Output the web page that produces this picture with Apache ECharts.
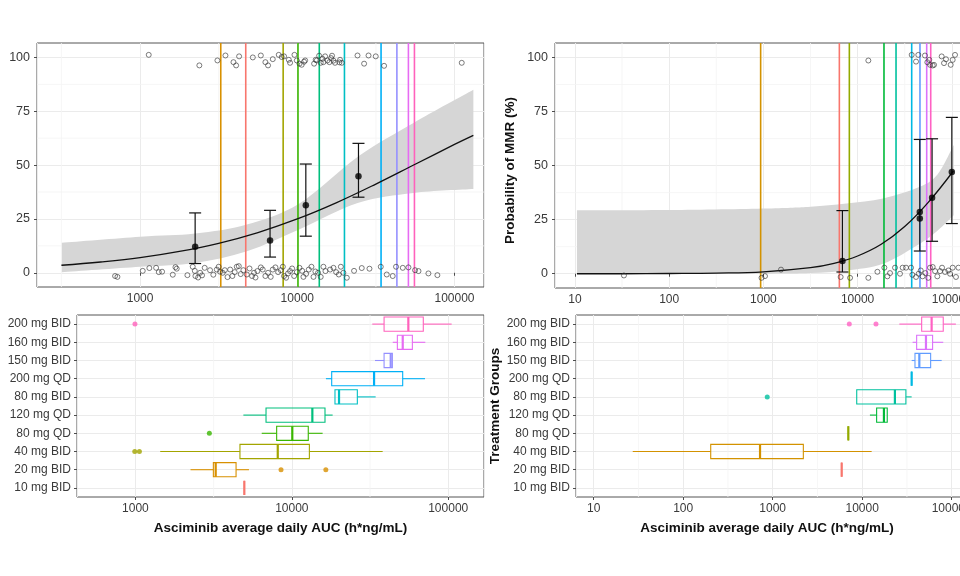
<!DOCTYPE html>
<html>
<head>
<meta charset="utf-8">
<script src="https://cdn.jsdelivr.net/npm/echarts@6.0.0/dist/echarts.min.js"></script>
<style>
html,body{margin:0;padding:0;background:#fff}
#main{width:960px;height:576px}
</style>
</head>
<body>
<div id="main"></div>
<script>
// treatment groups, bottom to top
var doseGroups = ['10 mg BID','20 mg BID','40 mg BID','80 mg QD','120 mg QD','80 mg BID','200 mg QD','150 mg BID','160 mg BID','200 mg BID'];
var leftColors = ['#F8766D','#D89000','#A3A500','#39B600','#00BF7D','#00BFC4','#00B0F6','#9590FF','#E76BF3','#FF62BC'];
var rightColors = [null,'#F8766D','#D39200','#93AA00','#00BA38','#00C19F','#00B9E3','#619CFF','#DB72FB','#FF61C3'];

var probTicks = [0, 25, 50, 75, 100];
var probMinor = [12.5, 37.5, 62.5, 87.5];

// ---- left, top: observed MMR (log10 AUC, jittered %)
var tlObs = [
  [3.055,101.2],[3.377,96.3],[3.492,98.6],[3.543,100.9],[3.594,97.8],[3.611,96.3],[3.630,100.5],[3.717,100.0],
  [3.768,100.9],[3.797,97.8],[3.814,96.3],[3.844,99.2],[3.882,101.2],[3.901,100.2],[3.916,100.5],[3.946,98.9],
  [3.954,97.5],[3.982,101.2],[3.997,98.6],[4.014,97.1],[4.028,96.6],[4.043,98.0],[4.050,98.6],[4.107,97.1],
  [4.117,98.9],[4.124,98.6],[4.139,100.8],[4.149,97.5],[4.160,99.4],[4.166,97.8],[4.177,100.5],[4.192,98.6],
  [4.204,97.8],[4.215,99.7],[4.221,100.8],[4.230,98.5],[4.240,97.5],[4.268,97.7],[4.272,98.9],[4.283,97.5],
  [4.383,100.9],[4.425,97.1],[4.453,100.9],[4.499,100.5],[4.552,96.1],[5.046,97.5],
  [2.841,-1.5],[2.856,-1.9],[3.017,0.9],[3.059,2.2],[3.102,2.3],[3.119,0.3],[3.140,0.5],[3.208,-0.9],
  [3.225,2.6],[3.233,1.9],[3.301,-1.1],[3.335,2.8],[3.348,0.9],[3.352,-1.5],[3.369,-2.2],[3.382,0],
  [3.394,-1.2],[3.411,2.3],[3.445,1.2],[3.466,-0.9],[3.488,1.5],[3.500,2.8],[3.509,0.5],[3.526,0],
  [3.539,1.2],[3.556,-2.0],[3.573,1.5],[3.587,-1.5],[3.602,0.3],[3.615,2.8],[3.628,3.1],[3.640,-0.6],
  [3.657,1.2],[3.679,-0.8],[3.696,2.0],[3.712,-1.5],[3.725,0],[3.734,-2.2],[3.746,0.8],[3.768,2.5],
  [3.780,1.5],[3.797,-1.5],[3.814,0],[3.831,-1.9],[3.844,1.5],[3.861,2.5],[3.878,0.3],[3.895,1.2],
  [3.908,2.8],[3.916,-1.5],[3.929,-2.3],[3.941,-0.3],[3.954,0.8],[3.967,2.0],[3.980,-1.5],[3.997,0.3],
  [4.014,2.3],[4.031,0.9],[4.039,-1.9],[4.056,-0.5],[4.073,1.5],[4.090,2.8],[4.103,-1.9],[4.115,0.6],
  [4.132,0],[4.149,-1.9],[4.166,2.8],[4.179,0.8],[4.209,1.5],[4.230,2.3],[4.247,0.3],[4.264,-0.8],
  [4.277,2.8],[4.293,0],[4.315,-2.3],[4.361,0.9],[4.410,2.2],[4.459,1.9],[4.531,2.8],[4.569,-0.8],
  [4.607,-1.5],[4.628,2.8],[4.671,2.3],[4.707,2.5],[4.749,1.2],[4.771,0.8],[4.834,-0.3],[4.891,-1.1]
];
var tlCurveAuc = [316, 562, 1000, 1780, 3160, 5620, 10000, 17800, 31600, 56200, 100000, 131800];
var tlCurveProb = [3.5, 5.0, 7.0, 9.9, 13.7, 18.7, 25.0, 32.6, 41.2, 50.4, 59.6, 63.8];
var tlBandAuc = [318, 1000, 2240, 4780, 10260, 24490, 54830, 131800];
var tlBandLo = [0.3, 2.8, 4.6, 10.0, 20.1, 32.5, 37.1, 38.9];
var tlBandHi = [13.9, 16.7, 18.2, 22.4, 32.1, 54.1, 69.6, 85.0];
// binned observed rate: AUC, mean, lower, upper
var tlBins = [[2240, 12.1, 4.3, 27.8], [6710, 15.0, 7.3, 29.0], [11330, 31.4, 17.0, 50.5], [24500, 44.8, 35.1, 60.1]];
// group medians (vertical lines), by dose group
var tlMedians = [4700, 3260, 8130, 10100, 13800, 19950, 34100, 43000, 50900, 55600];
var tlMinorX = [316, 3162, 31623];

// ---- left, bottom: AUC by group [min, q1, median, q3, max]
var blBox = [
  [4970, 4970, 4970, 4970, 4970],
  [2250, 3150, 3260, 4400, 5320],
  [1440, 4660, 8130, 12950, 38100],
  [6420, 8000, 10070, 12740, 15740],
  [4900, 6840, 13530, 16300, 18240],
  [18880, 18880, 20040, 26240, 34360],
  [16520, 17990, 33570, 51170, 71100],
  [34040, 38900, 42900, 43950, 43950],
  [44200, 47300, 51200, 59000, 71400],
  [32700, 38900, 55600, 69300, 105200]
];
var blOutliers = [[1, 8530], [1, 16500], [2, 990], [2, 1060], [3, 2970], [9, 993]];
var blMinorX = [3162, 31623];

// ---- right, top
var trObs = [
  [1.52,-0.8],[2.98,-1.9],[3.017,-1.1],[3.187,1.9],[3.82,-1.5],[3.92,-1.9],[4.114,-1.9],[4.21,0.9],
  [4.284,2.8],[4.316,-1.2],[4.344,0.3],[4.397,2.8],[4.45,0],[4.478,2.8],[4.514,2.8],[4.567,2.8],
  [4.581,-0.5],[4.62,-1.5],[4.648,0],[4.67,1.5],[4.69,-1.2],[4.719,0.3],[4.75,-1.9],[4.769,2.8],
  [4.797,3.1],[4.822,1.2],[4.846,-1.2],[4.875,1.2],[4.896,2.8],[4.928,0.8],[4.963,1.5],[4.981,0],
  [5.009,2.8],[5.044,-1.5],[5.07,2.8],
  [4.114,98.6],[4.574,101.2],[4.62,98.1],[4.644,101.2],[4.715,100.9],[4.74,97.8],[4.761,98.9],[4.769,96.6],
  [4.797,96.3],[4.811,96.6],[4.892,100.5],[4.917,97.4],[4.938,99.2],[4.988,96.6],[5.009,98.9],[5.034,101.2]
];
var trCurveAuc = [10.5, 31.6, 100, 316, 1000, 3160, 5620, 10000, 17800, 31600, 56200, 103800];
var trCurveProb = [0, 0, 0.1, 0.3, 0.9, 2.8, 4.8, 8.2, 13.6, 21.8, 33.0, 47.5];
var trBandAuc = [10.5, 100, 1100, 3160, 7590, 18600, 45700, 70800, 104700];
var trBandLo = [0, 0, 0, 0.3, 1.5, 4.6, 13.9, 20.0, 27.0];
var trBandHi = [29.4, 29.5, 30.2, 31.0, 32.5, 34.8, 40.2, 46.0, 59.5];
var trBins = [[6900, 5.9, 0.8, 29.2], [45700, 25.5, 10.5, 62.1], [61700, 35.1, 15.0, 62.4], [100000, 47.1, 23.2, 72.3]];
var trMeanExtra = [[45700, 28.6]];
var trMedians = [null, 6400, 935, 8170, 19050, 25570, 37500, 45900, 54100, 59700];
var trMinorX = [31.6, 316, 3162, 31623];

// ---- right, bottom
var brBox = [
  null,
  [5900, 5900, 5900, 5900, 5900],
  [27.3, 203, 722, 2200, 12760],
  [7000, 7000, 7000, 7000, 7000],
  [12200, 14500, 17500, 19050, 19050],
  [8690, 8690, 23200, 30800, 35700],
  [35700, 35700, 35700, 35700, 35700],
  [35700, 38900, 43500, 58200, 77300],
  [36600, 40600, 51600, 61200, 80500],
  [26000, 46200, 59700, 80500, 111400]
];
var brOutliers = [[5, 869], [9, 7180], [9, 14260]];
var brMinorX = [31.6, 316, 3162, 31623];

var FONT = 'Liberation Sans, Arial, sans-serif';
var TXT = '#3a3a3a';
var GRIDC = '#ebebeb';
var MINORC = '#f4f4f4';
var TITLE = {color: '#111', fontSize: 13.5, fontWeight: 'bold', fontFamily: FONT};

function zip(xs, ys) {
  return xs.map(function (x, i) { return [x, ys[i]]; });
}
function fromLog(list) {
  return list.map(function (p) { return [Math.pow(10, p[0]), p[1]]; });
}

function logAxis(gi, min, max, name) {
  return {
    type: 'log', logBase: 10, gridIndex: gi, min: min, max: max,
    axisLine: {show: false},
    axisTick: {show: true, length: 3, lineStyle: {color: '#4d4d4d'}},
    axisLabel: {color: TXT, fontSize: 12, fontFamily: FONT, margin: 6, showMinLabel: false, showMaxLabel: false,
      formatter: function (v) { return String(Math.round(v)); }},
    splitLine: {show: true, lineStyle: {color: GRIDC, width: 1}},
    name: name || '', nameLocation: 'middle', nameGap: 24,
    nameTextStyle: TITLE
  };
}
function probAxis(gi, name) {
  return {
    type: 'value', gridIndex: gi, min: -6.6, max: 106.7,
    axisLine: {show: false},
    axisTick: {show: true, length: 3, customValues: probTicks, lineStyle: {color: '#4d4d4d'}},
    axisLabel: {color: TXT, fontSize: 12.5, fontFamily: FONT, margin: 7, customValues: probTicks},
    splitLine: {show: true, lineStyle: {color: GRIDC, width: 1}},
    name: name || '', nameLocation: 'middle', nameGap: 38, nameRotate: 90,
    nameTextStyle: Object.assign({}, TITLE, {padding: [0, 10, 0, 0]})
  };
}
function groupAxis(gi, name) {
  return {
    type: 'category', gridIndex: gi, data: doseGroups,
    axisLine: {show: false},
    axisTick: {show: true, length: 3, alignWithLabel: true, lineStyle: {color: '#4d4d4d'}},
    axisLabel: {color: TXT, fontSize: 12, fontFamily: FONT, margin: 6},
    splitLine: {show: true, alignWithLabel: true, lineStyle: {color: GRIDC, width: 1}},
    name: name || '', nameLocation: 'middle', nameGap: 72, nameRotate: 90,
    nameTextStyle: TITLE
  };
}

// smooth path through pixel points (catmull-rom as cubic bezier)
function smoothPath(pts, cmd) {
  var d = cmd + pts[0][0] + ' ' + pts[0][1];
  for (var i = 0; i < pts.length - 1; i++) {
    var p0 = pts[i - 1] || pts[i], p1 = pts[i], p2 = pts[i + 1], p3 = pts[i + 2] || pts[i + 1];
    d += ' C' + (p1[0] + (p2[0] - p0[0]) / 6) + ' ' + (p1[1] + (p2[1] - p0[1]) / 6) + ' ' +
      (p2[0] - (p3[0] - p1[0]) / 6) + ' ' + (p2[1] - (p3[1] - p1[1]) / 6) + ' ' + p2[0] + ' ' + p2[1];
  }
  return d;
}
function bandRenderer(auc, lo, hi) {
  return function (params, api) {
    if (params.dataIndex !== 0) return null;
    var up = auc.map(function (x, i) { return api.coord([x, hi[i]]); });
    var dn = auc.map(function (x, i) { return api.coord([x, lo[i]]); }).reverse();
    return {type: 'path', shape: {pathData: smoothPath(up, 'M') + ' ' + smoothPath(dn, 'L') + ' Z'},
      style: {fill: '#d6d6d6', stroke: null}};
  };
}
function renderVLine(params, api) {
  var x = api.coord([api.value(0), 50])[0];
  var cs = params.coordSys;
  return {type: 'line', shape: {x1: x, y1: cs.y, x2: x, y2: cs.y + cs.height},
    style: {stroke: api.visual('color'), lineWidth: api.value(2) || 1.6}};
}
function renderHLine(params, api) {
  var cs = params.coordSys;
  var y = api.coord([1000, api.value(1)])[1];
  return {type: 'line', shape: {x1: cs.x, y1: y, x2: cs.x + cs.width, y2: y},
    style: {stroke: MINORC, lineWidth: 0.8}};
}
function renderErrorBar(params, api) {
  var lo = api.coord([api.value(0), api.value(2)]);
  var hi = api.coord([api.value(0), api.value(3)]);
  var w = 6;
  var st = {stroke: '#111', lineWidth: 1.2};
  return {type: 'group', children: [
    {type: 'line', shape: {x1: lo[0], y1: lo[1], x2: hi[0], y2: hi[1]}, style: st},
    {type: 'line', shape: {x1: lo[0] - w, y1: lo[1], x2: lo[0] + w, y2: lo[1]}, style: st},
    {type: 'line', shape: {x1: hi[0] - w, y1: hi[1], x2: hi[0] + w, y2: hi[1]}, style: st}
  ]};
}
function renderBox(params, api) {
  var c = api.value(0);
  var lo = api.coord([api.value(1), c]);
  var q1 = api.coord([api.value(2), c]);
  var md = api.coord([api.value(3), c]);
  var q3 = api.coord([api.value(4), c]);
  var hi = api.coord([api.value(5), c]);
  var h = api.size([0, 1], [1000, c])[1] * 0.78;
  var y = q1[1];
  var col = api.visual('color');
  var st = {stroke: col, fill: 'none', lineWidth: 1.1};
  return {type: 'group', children: [
    {type: 'line', shape: {x1: lo[0], y1: y, x2: q1[0], y2: y}, style: st},
    {type: 'line', shape: {x1: q3[0], y1: y, x2: hi[0], y2: y}, style: st},
    {type: 'rect', shape: {x: q1[0], y: y - h / 2, width: q3[0] - q1[0], height: h}, style: st},
    {type: 'line', shape: {x1: md[0], y1: y - h / 2, x2: md[0], y2: y + h / 2},
      style: {stroke: col, lineWidth: 2.2}}
  ]};
}

function medianItems(meds, colors) {
  var out = [];
  meds.forEach(function (v, i) {
    if (v != null) out.push({value: [v, 50], itemStyle: {color: colors[i]}});
  });
  return out;
}
function boxItems(boxes, colors) {
  var out = [];
  boxes.forEach(function (b, i) {
    if (b) out.push({value: [i].concat(b), itemStyle: {color: colors[i]}});
  });
  return out;
}
function outlierItems(list, colors) {
  return list.map(function (o) { return {value: [o[1], o[0]], itemStyle: {color: colors[o[0]]}}; });
}
function minorXSeries(gi, xs, yMid) {
  return {type: 'custom', xAxisIndex: gi, yAxisIndex: gi, renderItem: renderVLine, silent: true, z: 0,
    data: xs.map(function (x) { return {value: [x, yMid, 0.8], itemStyle: {color: MINORC}}; }),
    encode: {x: 0, y: 1}};
}

function topSeries(gi, obs, cAuc, cProb, bAuc, bLo, bHi, bins, meds, colors, minorX, extraMeans) {
  return [
    minorXSeries(gi, minorX, 50),
    {type: 'custom', xAxisIndex: gi, yAxisIndex: gi, renderItem: renderHLine, silent: true, z: 0,
      data: probMinor.map(function (v) { return [1000, v]; }), encode: {x: 0, y: 1}},
    {type: 'custom', xAxisIndex: gi, yAxisIndex: gi, renderItem: bandRenderer(bAuc, bLo, bHi), silent: true,
      data: zip(bAuc, bHi), encode: {x: 0, y: 1}, z: 1},
    {type: 'custom', xAxisIndex: gi, yAxisIndex: gi, renderItem: renderVLine,
      data: medianItems(meds, colors), encode: {x: 0, y: 1}, z: 2},
    {type: 'line', xAxisIndex: gi, yAxisIndex: gi, data: zip(cAuc, cProb), symbol: 'none',
      smooth: 0.4, lineStyle: {color: '#111', width: 1.3}, z: 3},
    {type: 'scatter', xAxisIndex: gi, yAxisIndex: gi, data: fromLog(obs), symbol: 'circle',
      symbolSize: 5, itemStyle: {color: 'rgba(0,0,0,0)', borderColor: '#333', borderWidth: 0.8}, z: 4},
    {type: 'custom', xAxisIndex: gi, yAxisIndex: gi, renderItem: renderErrorBar,
      data: bins, encode: {x: 0, y: [1, 2, 3]}, z: 5},
    {type: 'scatter', xAxisIndex: gi, yAxisIndex: gi,
      data: bins.map(function (b) { return [b[0], b[1]]; }).concat(extraMeans || []),
      symbol: 'circle', symbolSize: 6.5, itemStyle: {color: '#000'}, z: 6}
  ];
}
function bottomSeries(gi, boxes, outs, colors, minorX) {
  return [
    minorXSeries(gi, minorX, 4),
    {type: 'custom', xAxisIndex: gi, yAxisIndex: gi, renderItem: renderBox,
      data: boxItems(boxes, colors), encode: {x: [1, 2, 3, 4, 5], y: 0}, z: 3},
    {type: 'scatter', xAxisIndex: gi, yAxisIndex: gi, data: outlierItems(outs, colors),
      symbol: 'circle', symbolSize: 5, z: 4}
  ];
}

var gridBase = {show: true, borderColor: '#555', borderWidth: 1, backgroundColor: 'transparent',
  containLabel: false, outerBoundsMode: 'none'};
function grid(l, t, w, h) {
  return Object.assign({}, gridBase, {left: l, top: t, width: w, height: h});
}

var chart = echarts.init(document.getElementById('main'), null, {renderer: 'canvas'});
chart.setOption({
  animation: false,
  backgroundColor: '#fff',
  textStyle: {fontFamily: FONT},
  grid: [grid(37, 43, 447, 244), grid(555, 43, 417, 245), grid(77, 315, 407, 182), grid(576, 315, 396, 182)],
  xAxis: [
    logAxis(0, 221, 154000),
    logAxis(1, 6.14, 163700),
    logAxis(2, 423, 169400, 'Asciminib average daily AUC (h*ng/mL)'),
    Object.assign(logAxis(3, 6.34, 168700, 'Asciminib average daily AUC (h*ng/mL)'), {
      nameTextStyle: Object.assign({}, TITLE, {padding: [0, 14, 0, 0]})
    })
  ],
  yAxis: [probAxis(0), probAxis(1, 'Probability of MMR (%)'), groupAxis(2), groupAxis(3, 'Treatment Groups')],
  series: []
    .concat(topSeries(0, tlObs, tlCurveAuc, tlCurveProb, tlBandAuc, tlBandLo, tlBandHi, tlBins, tlMedians, leftColors, tlMinorX))
    .concat(topSeries(1, trObs, trCurveAuc, trCurveProb, trBandAuc, trBandLo, trBandHi, trBins, trMedians, rightColors, trMinorX, trMeanExtra))
    .concat(bottomSeries(2, blBox, blOutliers, leftColors, blMinorX))
    .concat(bottomSeries(3, brBox, brOutliers, rightColors, brMinorX))
});
</script>
</body>
</html>
